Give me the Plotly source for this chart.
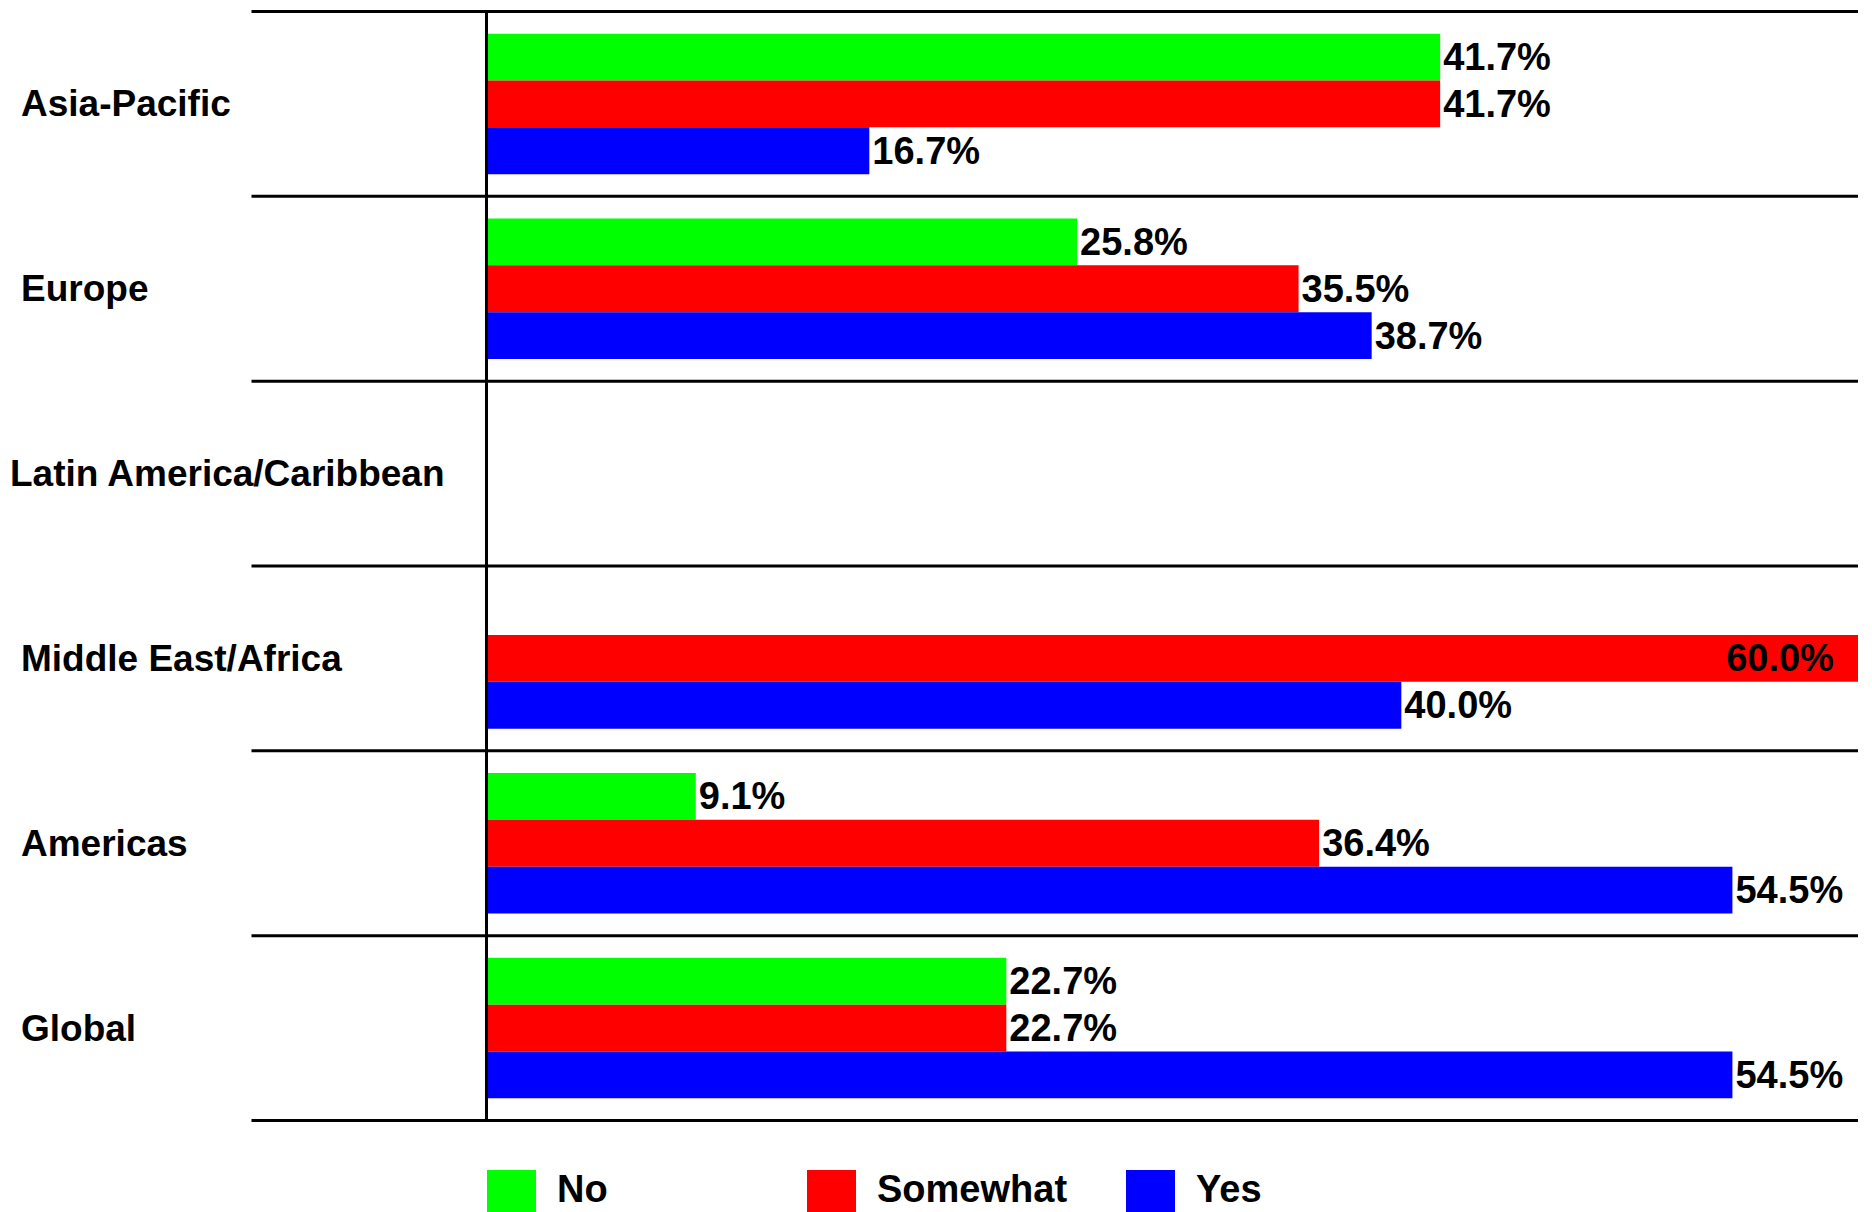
import plotly.graph_objects as go

categories = ["Asia-Pacific", "Europe", "Latin America/Caribbean",
              "Middle East/Africa", "Americas", "Global"]
series_names = ["No", "Somewhat", "Yes"]
no_vals = [41.7, 25.8, 0.0, 0.0, 9.1, 22.7]
somewhat_vals = [41.7, 35.5, 0.0, 60.0, 36.4, 22.7]
yes_vals = [16.7, 38.7, 0.0, 40.0, 54.5, 54.5]
colors = ["#00ff00", "#ff0000", "#0000ff"]

W, H = 1872, 1212
L, R, T, B = 488, 14, 10, 90
FONT = "Liberation Sans, Arial, sans-serif"
FS_CAT = 37
FS_LAB = 38
FS_LEG = 38

fig = go.Figure()
xmax = 60.0
NB = "\u00a0"
for name, vals, col in zip(series_names, [no_vals, somewhat_vals, yes_vals], colors):
    texts = []
    pos = []
    for v in vals:
        if v == 0:
            texts.append("")
            pos.append("none")
        elif v >= xmax * 0.95:
            texts.append(f"<b>{v:.1f}%{NB}{NB}</b>")
            pos.append("inside")
        else:
            texts.append(f"<b>{NB}{v:.1f}%</b>" if False else f"<b>{v:.1f}%</b>")
            pos.append("outside")
    fig.add_trace(go.Bar(
        y=categories, x=vals, orientation="h", name=name,
        marker=dict(color=col, line=dict(width=0)),
        text=texts, textposition=pos, insidetextanchor="end",
        textfont=dict(family=FONT, size=FS_LAB, color="black"),
        insidetextfont=dict(family=FONT, size=FS_LAB, color="black"),
        outsidetextfont=dict(family=FONT, size=FS_LAB, color="black"),
        constraintext="none", cliponaxis=False, showlegend=False,
        hoverinfo="skip",
    ))

plot_w = W - L - R
plot_h = H - T - B
sep_x0 = (251.5 - L) / plot_w
shapes = []
for i in range(len(categories) + 1):
    shapes.append(dict(type="line", xref="paper", yref="y",
                       x0=sep_x0, x1=1.0, y0=i - 0.5, y1=i - 0.5,
                       line=dict(color="black", width=3)))

annotations = []
for c in categories:
    xl = 8 if c.startswith("Latin") else 19
    annotations.append(dict(xref="paper", yref="y", x=(xl - L) / plot_w, y=c,
                            xanchor="left", yanchor="middle", showarrow=False,
                            text=f"<b>{c}</b>",
                            font=dict(family=FONT, size=FS_CAT, color="black")))

# custom legend (swatches + labels) below the plot
legend_items = [(487, "No"), (807, "Somewhat"), (1126, "Yes")]
for (lx, lab), col in zip(legend_items, colors):
    x0 = (lx - L) / plot_w
    x1 = (lx + 49 - L) / plot_w
    y_top = (H - B - 1170) / plot_h
    y_bot = (H - B - 1219) / plot_h
    shapes.append(dict(type="rect", xref="paper", yref="paper",
                       x0=x0, x1=x1, y0=y_bot, y1=y_top,
                       fillcolor=col, line=dict(width=0)))
    annotations.append(dict(xref="paper", yref="paper",
                            x=(lx + 68 - L) / plot_w, y=(H - B - 1189) / plot_h,
                            xanchor="left", yanchor="middle", showarrow=False,
                            text=f"<b>{lab}</b>",
                            font=dict(family=FONT, size=FS_LEG, color="black")))

fig.update_layout(
    width=W, height=H,
    margin=dict(l=L, r=R, t=T, b=B, pad=0),
    paper_bgcolor="white", plot_bgcolor="white",
    barmode="group", bargap=0.24, bargroupgap=0,
    xaxis=dict(range=[0, xmax], showgrid=False, zeroline=False,
               showticklabels=False, ticks="", showline=False),
    yaxis=dict(autorange="reversed", showgrid=False, zeroline=False,
               showticklabels=False, ticks="", showline=True,
               linecolor="black", linewidth=3),
    shapes=shapes, annotations=annotations,
    showlegend=False,
)

fig.write_html("out.html",
               config={"displayModeBar": False},
               post_script="document.body.style.margin='0';"
                           "document.body.style.overflow='hidden';")
